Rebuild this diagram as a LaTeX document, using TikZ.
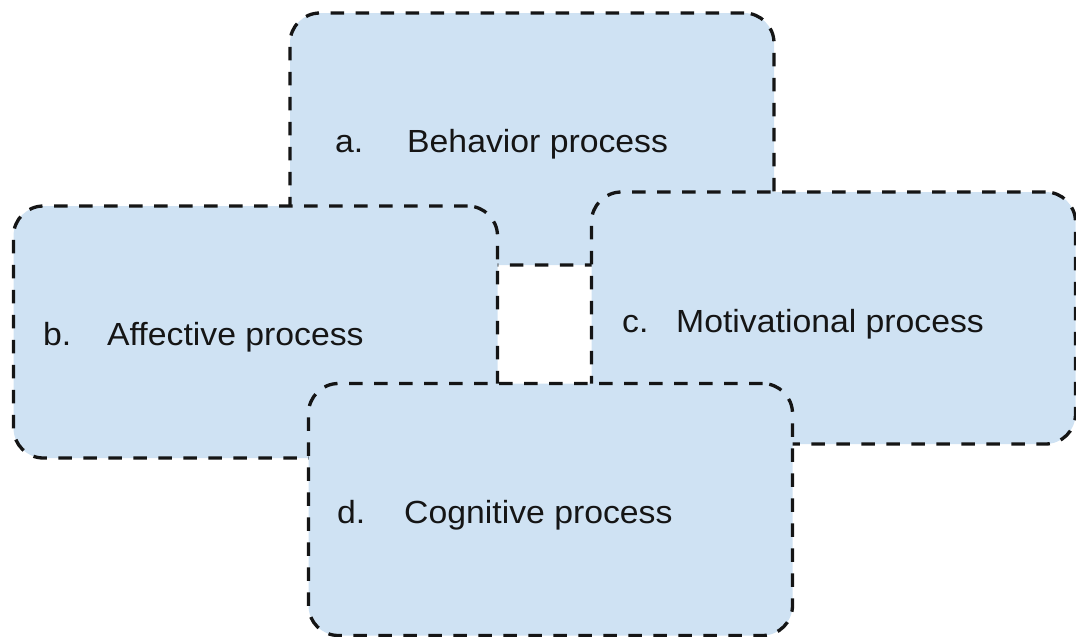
\documentclass[tikz,border=0pt]{standalone}
\usepackage{fontspec}
\setmainfont{Liberation Sans}
\definecolor{boxfill}{HTML}{CFE2F3}
\definecolor{ink}{HTML}{151515}
% slightly widened text, as the labels are set a little wide
\newcommand{\widetext}[1]{\scalebox{1.055}[1]{#1}}
\begin{document}
\begin{tikzpicture}[x=1pt,y=-1pt,
  procbox/.style={draw=ink, fill=boxfill, rectangle, rounded corners=30pt,
    line width=3.3pt, dash pattern=on 13.5pt off 11.5pt,
    minimum width=484pt, minimum height=252pt, inner sep=0pt},
  proctext/.style={anchor=base west, inner sep=0pt, text=ink,
    font=\fontsize{32}{38}\selectfont}]
  \useasboundingbox (0,0) rectangle (1076,637);
  % the four process boxes, back to front
  \node[procbox] (a) at (532,139) {};
  \node[procbox] (b) at (255.5,332) {};
  \node[procbox] (c) at (833.5,318) {};
  \node[procbox] (d) at (550.5,509.5) {};
  % labels and names
  \node[proctext] (alab) at (335,152) {\widetext{a.}};
  \node[proctext] (aname) at (407,152) {\widetext{Behavior process}};
  \node[proctext] (blab) at (43,345) {\widetext{b.}};
  \node[proctext] (bname) at (107,345) {\widetext{Affective process}};
  \node[proctext] (clab) at (622,332) {\widetext{c.}};
  \node[proctext] (cname) at (676,332) {\widetext{Motivational process}};
  \node[proctext] (dlab) at (337,523) {\widetext{d.}};
  \node[proctext] (dname) at (404,523) {\widetext{Cognitive process}};
\end{tikzpicture}
\end{document}
